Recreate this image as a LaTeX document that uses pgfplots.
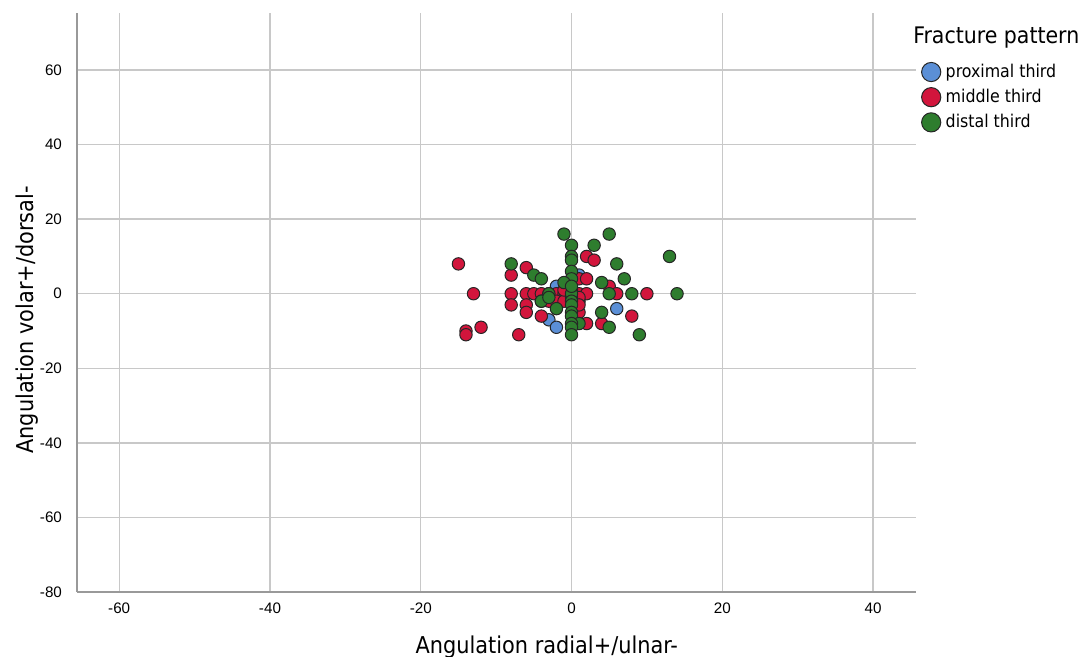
\documentclass[border=0pt]{standalone}
\usepackage{pgfplots}
\pgfplotsset{compat=1.18}
\usepackage{fontspec}
\setmainfont{Liberation Sans}
\newfontfamily\cond{DejaVu Sans Condensed}

\definecolor{cprox}{HTML}{5B8FD6}
\definecolor{cmid}{HTML}{D2153C}
\definecolor{cdist}{HTML}{2E7D2E}
\definecolor{gridgray}{HTML}{C8C8C8}
\definecolor{axgray}{HTML}{999999}

\begin{document}
\begin{tikzpicture}
\useasboundingbox (-38.5pt,-32.5pt) rectangle (507pt,296pt);
\begin{axis}[
    scale only axis,
    width=419.5pt, height=289.5pt,
    xmin=-65.6, xmax=45.7,
    ymin=-80, ymax=75.3,
    axis lines=left,
    axis line style={-, axgray, line width=0.8pt},
    xtick={-60,-40,...,40},
    ytick={-80,-60,...,60},
    major tick length=0pt,
    grid=major,
    major grid style={gridgray, line width=0.7pt},
    tick label style={font=\fontsize{7.6}{9}\selectfont},
    /pgf/number format/assume math mode=true,
    xticklabel style={yshift=-2pt},
    yticklabel style={xshift=-4pt},
    xlabel={Angulation radial+/ulnar-},
    ylabel={Angulation volar+/dorsal-},
    label style={font=\cond\fontsize{11.6}{13}\selectfont},
    xlabel style={at={(axis description cs:0.56,-0.107)}, anchor=base},
    ylabel style={at={(axis description cs:-0.0524,0.47)}, anchor=base},
    clip=false,
    legend cell align=left,
    legend style={at={(axis description cs:1.0056,0.917)}, anchor=north west,
        draw=none, fill=none, font=\cond\fontsize{8.8}{10}\selectfont,
        row sep=2pt, inner sep=0pt,
        nodes={inner sep=1.2pt},
        /tikz/every odd column/.append style={column sep=1pt}},
    mark size=3.1pt,
]
\addplot[only marks, mark=*, mark options={draw=black!85, fill=cprox, line width=0.5pt},
    legend image code/.code={\draw[black!85, line width=0.5pt, fill=cprox] (5pt,0) circle (4.8pt);}]
coordinates {(-2,2)(1,5)(-3,-7)(-2,-9)(6,-4)};
\addlegendentry{proximal third}

\addplot[only marks, mark=*, mark options={draw=black!85, fill=cmid, line width=0.5pt},
    legend image code/.code={\draw[black!85, line width=0.5pt, fill=cmid] (5pt,0) circle (4.8pt);}]
coordinates {
(-15,8)(-13,0)(-14,-10)(-14,-11)(-12,-9)(-7,-11)(-8,5)(-6,7)
(-8,0)(-8,-3)(-6,0)(-6,-3)(-6,-5)(-5,0)(-4,0)(-3,0)(-2,0)(-1,0)
(1,0)(2,0)(-4,-6)(-4,-2)(-3,-2)(-2,-2)(-1,-2)(1,-2)(1,-1)(1,-5)
(1,-3)(2,10)(3,9)(1,4)(2,4)(5,2)(6,0)(10,0)(8,-6)(4,-8)(2,-8)
(0,-1)(0,1)(-1,1)
};
\addlegendentry{middle third}

\addplot[only marks, mark=*, mark options={draw=black!85, fill=cdist, line width=0.5pt},
    legend image code/.code={\draw[black!85, line width=0.5pt, fill=cdist] (5pt,0) circle (4.8pt);}]
coordinates {
(-1,16)(5,16)(0,13)(3,13)(0,10)(0,9)(13,10)(6,8)(-8,8)(-5,5)
(-4,4)(7,4)(4,3)(0,6)(0,4)(-1,3)(-3,0)(0,0)(5,0)(8,0)(14,0)
(0,2)(-4,-2)(-3,-1)(0,-2)(0,-3)(-2,-4)(0,-5)(4,-5)(0,-6)(1,-8)
(0,-8)(5,-9)(0,-9)(0,-11)(9,-11)
};
\addlegendentry{distal third}

\node[anchor=base west, inner sep=0pt, font=\cond\fontsize{11.4}{13}\selectfont]
    at (axis description cs:0.9964,0.948) {Fracture pattern};
\end{axis}
\end{tikzpicture}
\end{document}
